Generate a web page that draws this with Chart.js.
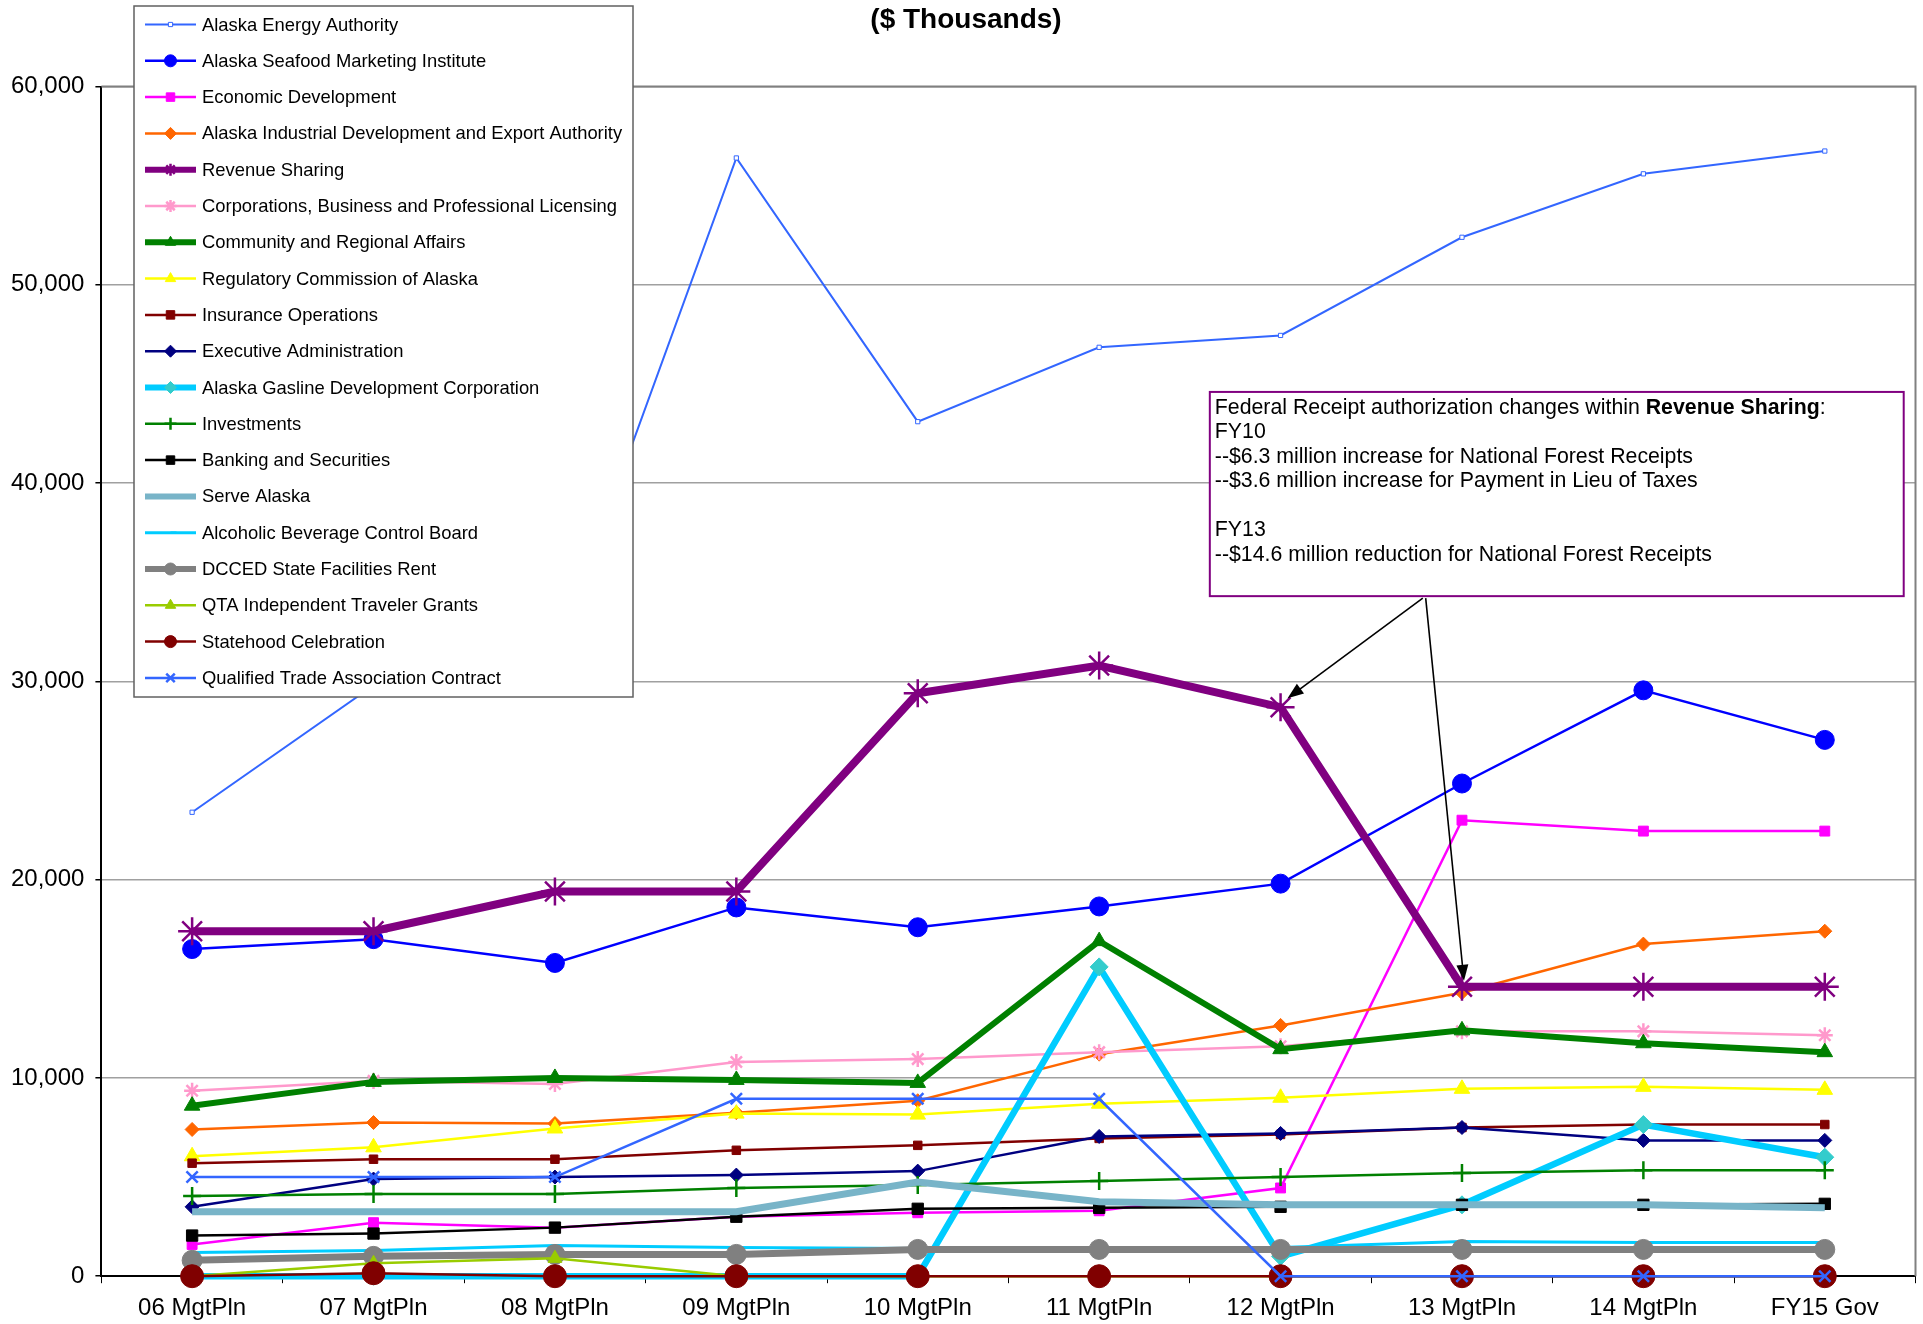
<!DOCTYPE html>
<html>
<head>
<meta charset="utf-8">
<script src="https://cdn.jsdelivr.net/npm/chart.js@4.4.1/dist/chart.umd.min.js"></script>
<style>
  html, body { margin: 0; padding: 0; background: #fff; overflow: hidden; }
  #wrap { width: 1932px; height: 1334px; position: relative; }
</style>
</head>
<body>
<div id="wrap"><canvas id="chart"></canvas></div>
<script>
const FONT = '"Liberation Sans", Arial, sans-serif';

const categories = ['06 MgtPln', '07 MgtPln', '08 MgtPln', '09 MgtPln', '10 MgtPln', '11 MgtPln', '12 MgtPln', '13 MgtPln', '14 MgtPln', 'FY15 Gov'];
const yTicks = [0, 10000, 20000, 30000, 40000, 50000, 60000];

// $ thousands
const energyAuthority = [23400, 29800, 31250, 56400, 43100, 46850, 47450, 52400, 55600, 56750];
const seafoodMarketing = [16500, 17000, 15800, 18600, 17600, 18650, 19800, 24850, 29550, 27050];
const economicDev = [1600, 2700, 2450, 3000, 3200, 3300, 4450, 23000, 22450, 22450];
const aidea = [7400, 7750, 7700, 8250, 8850, 11200, 12650, 14300, 16750, 17400];
const revenueSharing = [17400, 17400, 19400, 19400, 29400, 30800, 28700, 14600, 14600, 14600];
const corporations = [9350, 9850, 9700, 10800, 10950, 11300, 11600, 12350, 12350, 12150];
const communityAffairs = [8600, 9800, 10000, 9900, 9750, 16900, 11450, 12400, 11750, 11300];
const regulatoryComm = [6050, 6500, 7450, 8200, 8150, 8700, 9000, 9450, 9550, 9400];
const insuranceOps = [5700, 5900, 5900, 6350, 6600, 6950, 7150, 7500, 7650, 7650];
const execAdmin = [3500, 4900, 5000, 5100, 5300, 7050, 7200, 7500, 6850, 6850];
const gaslineCorp = [0, 0, 0, 0, 0, 15600, 1000, 3600, 7650, 6000];
const investments = [4050, 4150, 4150, 4450, 4600, 4800, 5000, 5200, 5350, 5350];
const banking = [2050, 2150, 2450, 3000, 3400, 3450, 3500, 3600, 3600, 3650];
const serveAlaska = [3250, 3250, 3250, 3250, 4750, 3750, 3600, 3600, 3600, 3450];
const abcBoard = [1200, 1300, 1550, 1450, 1400, 1450, 1450, 1750, 1700, 1700];
const facilitiesRent = [800, 1000, 1100, 1100, 1350, 1350, 1350, 1350, 1350, 1350];
const qtaGrants = [0, 650, 900, 0, 0, 0, 0, 0, 0, 0];
const statehood = [0, 150, 0, 0, 0, 0, 0, 0, 0, 0];
const qtaContract = [5000, 5000, 5000, 8950, 8950, 8950, 0, 0, 0, 0];

const noteLines = [
    [['Federal Receipt authorization changes within ', false], ['Revenue Sharing', true], [':', false]],
    [['FY10', false]],
    [['--$6.3 million increase for National Forest Receipts', false]],
    [['--$3.6 million increase for Payment in Lieu of Taxes', false]],
    [],
    [['FY13', false]],
    [['--$14.6 million reduction for National Forest Receipts', false]]
];

const series = [
    ['Alaska Energy Authority', energyAuthority, '#3366FF', 2, 'rect', 3, '#ffffff'],
    ['Alaska Seafood Marketing Institute', seafoodMarketing, '#0000FF', 2.5, 'circle', 9.5],
    ['Economic Development', economicDev, '#FF00FF', 2.5, 'rect', 7],
    ['Alaska Industrial Development and Export Authority', aidea, '#FF6600', 2.5, 'rectRot', 7],
    ['Revenue Sharing', revenueSharing, '#800080', 8, 'star', 14],
    ['Corporations, Business and Professional Licensing', corporations, '#FF99CC', 2.5, 'star', 8],
    ['Community and Regional Affairs', communityAffairs, '#008000', 6, 'triangle', 9],
    ['Regulatory Commission of Alaska', regulatoryComm, '#FFFF00', 2.5, 'triangle', 9],
    ['Insurance Operations', insuranceOps, '#800000', 2.5, 'rect', 6],
    ['Executive Administration', execAdmin, '#000080', 2.5, 'rectRot', 7],
    ['Alaska Gasline Development Corporation', gaslineCorp, '#00CCFF', 6.5, 'rectRot', 9, '#33CCCC'],
    ['Investments', investments, '#008000', 2.5, 'cross', 9],
    ['Banking and Securities', banking, '#000000', 2.5, 'rect', 8],
    ['Serve Alaska', serveAlaska, '#78B4C8', 7, false, 0],
    ['Alcoholic Beverage Control Board', abcBoard, '#00CCFF', 3, 'dash', 6],
    ['DCCED State Facilities Rent', facilitiesRent, '#808080', 7, 'circle', 10],
    ['QTA Independent Traveler Grants', qtaGrants, '#99CC00', 2.5, 'triangle', 8],
    ['Statehood Celebration', statehood, '#800000', 2.5, 'circle', 11.5],
    ['Qualified Trade Association Contract', qtaContract, '#3366FF', 2.5, 'crossRot', 8]
];

const datasets = series.map((s, i) => ({
    label: s[0],
    data: s[1],
    borderColor: s[2],
    backgroundColor: s[2],
    borderWidth: s[3],
    pointStyle: s[4],
    pointRadius: s[5],
    pointBackgroundColor: s[6] || s[2],
    pointBorderColor: s[4] === 'rect' && s[6] ? s[2] : (s[6] || s[2]),
    pointBorderWidth: (s[4] === 'cross' || s[4] === 'crossRot' || s[4] === 'star' || s[4] === 'dash') ? 2.5 : 1,
    tension: 0,
    clip: false,
    order: -i // later series on top, like the original
}));

// grey frame on top/right of the plot area
const frame = {
    id: 'frame',
    beforeDatasetsDraw(chart) {
        const { ctx, chartArea: a } = chart;
        ctx.save();
        ctx.strokeStyle = '#808080';
        ctx.lineWidth = 2;
        ctx.beginPath();
        ctx.moveTo(a.left, a.top);
        ctx.lineTo(a.right, a.top);
        ctx.lineTo(a.right, a.bottom);
        ctx.stroke();
        ctx.restore();
    }
};

// boxed legend overlapping the plot, top-left
const boxLegend = {
    id: 'boxLegend',
    afterDraw(chart) {
        const { ctx } = chart;
        const left = 134, top = 6, w = 499, h = 691;
        const rowH = 36.3, firstY = 24.5;
        ctx.save();
        ctx.fillStyle = '#fff';
        ctx.fillRect(left, top, w, h);
        ctx.strokeStyle = '#606060';
        ctx.lineWidth = 1.5;
        ctx.strokeRect(left, top, w, h);
        ctx.font = '18.4px ' + FONT;
        ctx.textBaseline = 'middle';
        chart.data.datasets.forEach((ds, i) => {
            const y = firstY + i * rowH;
            ctx.strokeStyle = ds.borderColor;
            ctx.lineWidth = Math.min(ds.borderWidth, 6);
            ctx.beginPath();
            ctx.moveTo(145, y);
            ctx.lineTo(196, y);
            ctx.stroke();
            if (ds.pointStyle && Chart.helpers && Chart.helpers.drawPoint) {
                ctx.fillStyle = ds.pointBackgroundColor;
                ctx.strokeStyle = ds.pointBorderColor;
                ctx.lineWidth = ds.pointBorderWidth;
                Chart.helpers.drawPoint(ctx, {
                    pointStyle: ds.pointStyle,
                    radius: Math.min(ds.pointRadius, 6),
                    rotation: 0,
                    borderWidth: ds.pointBorderWidth
                }, 170.5, y);
            }
            ctx.fillStyle = '#000';
            ctx.fillText(ds.label, 202, y + 1);
        });
        ctx.restore();
    }
};

// note box with two arrows to the Revenue Sharing line
const note = {
    id: 'note',
    afterDraw(chart) {
        const { ctx } = chart;
        const x = chart.scales.x, y = chart.scales.y;
        const step = x.getPixelForValue(1) - x.getPixelForValue(0);
        const xAt = idx => x.getPixelForValue(0) + idx * step;
        const bl = xAt(5.61), br = xAt(9.435);
        const bt = y.getPixelForValue(44600), bb = y.getPixelForValue(34300);
        ctx.save();
        ctx.fillStyle = '#fff';
        ctx.fillRect(bl, bt, br - bl, bb - bt);
        ctx.strokeStyle = '#800080';
        ctx.lineWidth = 2;
        ctx.strokeRect(bl, bt, br - bl, bb - bt);
        ctx.fillStyle = '#000';
        ctx.textBaseline = 'middle';
        noteLines.forEach((parts, i) => {
            let tx = bl + 5;
            const ty = bt + 16 + i * 24.5;
            parts.forEach(([txt, bold]) => {
                ctx.font = (bold ? 'bold ' : '') + '21.3px ' + FONT;
                ctx.fillText(txt, tx, ty);
                tx += ctx.measureText(txt).width;
            });
        });
        const arrow = (sx, sy, ex, ey) => {
            const ang = Math.atan2(ey - sy, ex - sx);
            const len = 16, half = 6;
            ctx.strokeStyle = '#000';
            ctx.lineWidth = 1.6;
            ctx.beginPath();
            ctx.moveTo(sx, sy);
            ctx.lineTo(ex - Math.cos(ang) * len * 0.8, ey - Math.sin(ang) * len * 0.8);
            ctx.stroke();
            ctx.beginPath();
            ctx.moveTo(ex, ey);
            ctx.lineTo(ex - Math.cos(ang) * len - Math.sin(ang) * half, ey - Math.sin(ang) * len + Math.cos(ang) * half);
            ctx.lineTo(ex - Math.cos(ang) * len + Math.sin(ang) * half, ey - Math.sin(ang) * len - Math.cos(ang) * half);
            ctx.closePath();
            ctx.fillStyle = '#000';
            ctx.fill();
        };
        arrow(xAt(6.784), bb + 2, x.getPixelForValue(6) + 7, y.getPixelForValue(revenueSharing[6]) - 9);
        arrow(xAt(6.80), bb + 2, x.getPixelForValue(7) + 2, y.getPixelForValue(revenueSharing[7]) - 6);
        ctx.restore();
    }
};

new Chart(document.getElementById('chart'), {
    type: 'line',
    data: { labels: categories, datasets },
    options: {
        responsive: true,
        maintainAspectRatio: false,
        animation: false,
        layout: { padding: { left: 0, right: 0, top: 0, bottom: 0 } },
        plugins: {
            legend: { display: false },
            tooltip: { enabled: false },
            title: {
                display: true,
                text: '($ Thousands)',
                color: '#000',
                font: { family: FONT, size: 28, weight: 'bold' },
                padding: { top: 3, bottom: 50 }
            }
        },
        scales: {
            x: {
                offset: true,
                grid: { offset: true, drawOnChartArea: false, drawTicks: true, tickLength: 7, color: '#000' },
                border: { color: '#000', width: 2 },
                ticks: { color: '#000', font: { family: FONT, size: 24, lineHeight: 0.45 }, padding: 20, maxRotation: 0, autoSkip: false }
            },
            y: {
                min: yTicks[0],
                max: yTicks[yTicks.length - 1],
                afterBuildTicks: axis => { axis.ticks = yTicks.map(v => ({ value: v })); },
                grid: { color: '#A0A0A0', lineWidth: 1.5, tickLength: 6, tickColor: '#000' },
                border: { color: '#000', width: 2 },
                ticks: { color: '#000', font: { family: FONT, size: 24 }, padding: 11 }
            }
        }
    },
    plugins: [frame, boxLegend, note]
});
</script>
</body>
</html>
